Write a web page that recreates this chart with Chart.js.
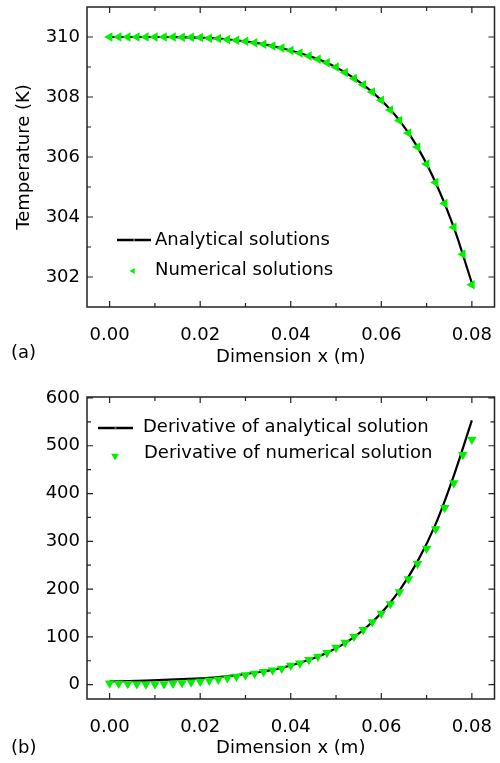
<!DOCTYPE html>
<html>
<head>
<meta charset="utf-8">
<script src="https://cdn.jsdelivr.net/npm/chart.js@4.4.0/dist/chart.umd.min.js"></script>
<style>
    body { margin: 0; background: #fff; }
    #wrap { position: relative; width: 500px; height: 763px; }
    canvas { position: absolute; left: 0; }
    #chart-a { top: 0; }
    #chart-b { top: 380px; }
</style>
</head>
<body>
<div id="wrap">
    <canvas id="chart-a" width="500" height="380"></canvas>
    <canvas id="chart-b" width="500" height="383"></canvas>
</div>
<script>
// Numerical points (every 0.002 m)
const xNum = [0.000, 0.002, 0.004, 0.006, 0.008, 0.010, 0.012, 0.014, 0.016, 0.018,
              0.020, 0.022, 0.024, 0.026, 0.028, 0.030, 0.032, 0.034, 0.036, 0.038,
              0.040, 0.042, 0.044, 0.046, 0.048, 0.050, 0.052, 0.054, 0.056, 0.058,
              0.060, 0.062, 0.064, 0.066, 0.068, 0.070, 0.072, 0.074, 0.076, 0.078, 0.080];
const tempNum = [310.00, 310.00, 310.00, 310.00, 310.00, 310.00, 310.00, 310.00, 309.99, 309.99,
                 309.98, 309.96, 309.95, 309.92, 309.89, 309.86, 309.81, 309.76, 309.70, 309.63,
                 309.55, 309.47, 309.37, 309.26, 309.14, 309.00, 308.82, 308.62, 308.41, 308.17,
                 307.89, 307.57, 307.22, 306.80, 306.33, 305.77, 305.15, 304.45, 303.66, 302.76, 301.74];
const derivNum = [3, 2.5, 2, 1.5, 1, 1, 1.5, 2.5, 3.5, 5,
                  6.5, 8.5, 11, 14, 17, 20, 23.5, 27, 30, 34,
                  40, 45, 52, 59, 67, 78, 88, 101, 115, 131,
                  149, 169, 194, 221, 253, 285, 326, 370, 422, 481, 513];

// Analytical curve (every 0.004 m)
const xAna = [0.000, 0.004, 0.008, 0.012, 0.016, 0.020, 0.024, 0.028, 0.032, 0.036, 0.040,
              0.044, 0.048, 0.052, 0.056, 0.060, 0.064, 0.068, 0.072, 0.076, 0.080];
const tempAna = [310.00, 310.00, 310.00, 310.00, 309.99, 309.98, 309.95, 309.89, 309.81, 309.70, 309.55,
                 309.37, 309.14, 308.82, 308.41, 307.89, 307.22, 306.33, 305.15, 303.66, 301.80];
const derivAna = [7, 7.5, 8.5, 10, 11.5, 13, 16, 20, 25, 31, 40,
                  52, 67, 87, 114, 150, 197, 258, 336, 437, 553];

// Ticks
const xTicks = [0, 0.02, 0.04, 0.06, 0.08];
const xMinor = [0.01, 0.03, 0.05, 0.07];
const tempTicks = [302, 304, 306, 308, 310];
const tempMinor = [303, 305, 307, 309];
const derivTicks = [0, 100, 200, 300, 400, 500, 600];
const derivMinor = [50, 150, 250, 350, 450, 550];

Chart.defaults.font.family = "'DejaVu Sans', sans-serif";
Chart.defaults.font.size = 18;
Chart.defaults.color = "#000";

const GREEN = "#00f000";

function pts(xs, ys) {
    return xs.map((x, i) => ({ x: x, y: ys[i] }));
}

function triangle(ctx, x, y, r, rotDeg) {
    const rad = rotDeg * Math.PI / 180;
    ctx.beginPath();
    for (let k = 0; k < 3; k++) {
        const a = rad + k * 2 * Math.PI / 3;
        const px = x + Math.sin(a) * r;
        const py = y - Math.cos(a) * r;
        if (k === 0) ctx.moveTo(px, py); else ctx.lineTo(px, py);
    }
    ctx.closePath();
    ctx.fill();
}

// frame, inward ticks on all sides, legend and panel label
const framePlugin = {
    id: "frame",
    afterDraw(chart, args, opts) {
        const ctx = chart.ctx;
        const a = chart.chartArea;
        const xs = chart.scales.x, ys = chart.scales.y;
        ctx.save();
        ctx.strokeStyle = "#222";
        ctx.lineWidth = 1.5;
        ctx.strokeRect(a.left, a.top, a.right - a.left, a.bottom - a.top);

        ctx.lineWidth = 1.2;
        const tickX = (v, len) => {
            const p = xs.getPixelForValue(v);
            ctx.beginPath();
            ctx.moveTo(p, a.bottom); ctx.lineTo(p, a.bottom - len);
            ctx.moveTo(p, a.top); ctx.lineTo(p, a.top + len);
            ctx.stroke();
        };
        const tickY = (v, len) => {
            const p = ys.getPixelForValue(v);
            ctx.beginPath();
            ctx.moveTo(a.left, p); ctx.lineTo(a.left + len, p);
            ctx.moveTo(a.right, p); ctx.lineTo(a.right - len, p);
            ctx.stroke();
        };
        xs.ticks.forEach(t => tickX(t.value, 6));
        opts.xMinor.forEach(v => tickX(v, 4));
        ys.ticks.forEach(t => tickY(t.value, 6));
        opts.yMinor.forEach(v => tickY(v, 4));

        ctx.font = "18px 'DejaVu Sans', sans-serif";
        ctx.textBaseline = "middle";
        ctx.textAlign = "left";
        ctx.fillStyle = "#000";
        opts.legend.forEach(item => {
            if (item.kind === "line") {
                ctx.strokeStyle = "#000";
                ctx.lineWidth = 2.5;
                ctx.beginPath();
                ctx.moveTo(item.x1, item.y); ctx.lineTo(item.x2, item.y);
                ctx.stroke();
                ctx.fillStyle = "#555";
                ctx.fillRect((item.x1 + item.x2) / 2 - 1, item.y - 1, 2, 2);
            } else {
                ctx.fillStyle = GREEN;
                triangle(ctx, item.x, item.y, item.r, item.rotation);
            }
            ctx.fillStyle = "#000";
            ctx.fillText(item.text, item.tx, item.ty);
        });

        ctx.fillText(opts.panel.text, opts.panel.x, opts.panel.y);
        ctx.restore();
    }
};

function noPad(s) {
    s.paddingLeft = 0;
    s.paddingRight = 0;
    s.paddingTop = 0;
    s.paddingBottom = 0;
}

function axisX(height, labelPad, titlePad) {
    return {
        type: "linear",
        min: -0.005,
        max: 0.085,
        grid: { display: false, drawTicks: false },
        border: { display: false },
        ticks: { padding: labelPad, maxRotation: 0, callback: v => v.toFixed(2) },
        afterBuildTicks: s => { s.ticks = xTicks.map(v => ({ value: v })); },
        afterFit: s => { s.height = height; noPad(s); },
        title: { display: true, text: "Dimension x (m)", padding: { top: 0, bottom: titlePad } }
    };
}

function axisY(min, max, ticks, title) {
    return {
        type: "linear",
        min: min,
        max: max,
        grid: { display: false, drawTicks: false },
        border: { display: false },
        ticks: { padding: 7, callback: v => String(v) },
        afterBuildTicks: s => { s.ticks = ticks.map(v => ({ value: v })); },
        afterFit: s => { s.width = 87; noPad(s); },
        title: title
    };
}

const common = {
    responsive: false,
    animation: false,
    events: [],
    plugins: { legend: { display: false }, tooltip: { enabled: false } }
};

new Chart(document.getElementById("chart-a"), {
    type: "line",
    data: {
        datasets: [{
            label: "Numerical solutions",
            data: pts(xNum, tempNum),
            showLine: false,
            pointStyle: "triangle",
            rotation: -90,
            pointRadius: 5.5,
            pointBackgroundColor: GREEN,
            pointBorderWidth: 0
        }, {
            label: "Analytical solutions",
            data: pts(xAna, tempAna),
            borderColor: "#000",
            borderWidth: 2.2,
            pointRadius: 0,
            cubicInterpolationMode: "monotone"
        }]
    },
    options: {
        ...common,
        layout: { padding: { left: 0, right: 0, top: 7, bottom: 0 } },
        scales: {
            x: axisX(73, 18, 12),
            y: axisY(301, 311, tempTicks,
                { display: true, text: "Temperature (K)", padding: { top: 14, bottom: 0 } })
        },
        plugins: {
            ...common.plugins,
            frame: {
                xMinor: xMinor,
                yMinor: tempMinor,
                legend: [
                    { kind: "line", x1: 117, x2: 151, y: 240, text: "Analytical solutions", tx: 155, ty: 240 },
                    { kind: "marker", x: 133, y: 271, r: 3.5, rotation: -90, text: "Numerical solutions", tx: 155, ty: 270 }
                ],
                panel: { text: "(a)", x: 11, y: 353 }
            }
        }
    },
    plugins: [framePlugin]
});

new Chart(document.getElementById("chart-b"), {
    type: "line",
    data: {
        datasets: [{
            label: "Derivative of numerical solution",
            data: pts(xNum, derivNum),
            showLine: false,
            pointStyle: "triangle",
            rotation: 180,
            pointRadius: 5.5,
            pointBackgroundColor: GREEN,
            pointBorderWidth: 0
        }, {
            label: "Derivative of analytical solution",
            data: pts(xAna, derivAna),
            borderColor: "#000",
            borderWidth: 2.2,
            pointRadius: 0,
            cubicInterpolationMode: "monotone"
        }]
    },
    options: {
        ...common,
        layout: { padding: { left: 0, right: 0, top: 17, bottom: 0 } },
        scales: {
            x: axisX(64, 18, 4),
            y: axisY(-30, 602, derivTicks, { display: false })
        },
        plugins: {
            ...common.plugins,
            frame: {
                xMinor: xMinor,
                yMinor: derivMinor,
                legend: [
                    { kind: "line", x1: 98, x2: 133, y: 48, text: "Derivative of analytical solution", tx: 143, ty: 47 },
                    { kind: "marker", x: 115, y: 76, r: 4.5, rotation: 180, text: "Derivative of numerical solution", tx: 144, ty: 73 }
                ],
                panel: { text: "(b)", x: 11, y: 368 }
            }
        }
    },
    plugins: [framePlugin]
});
</script>
</body>
</html>
